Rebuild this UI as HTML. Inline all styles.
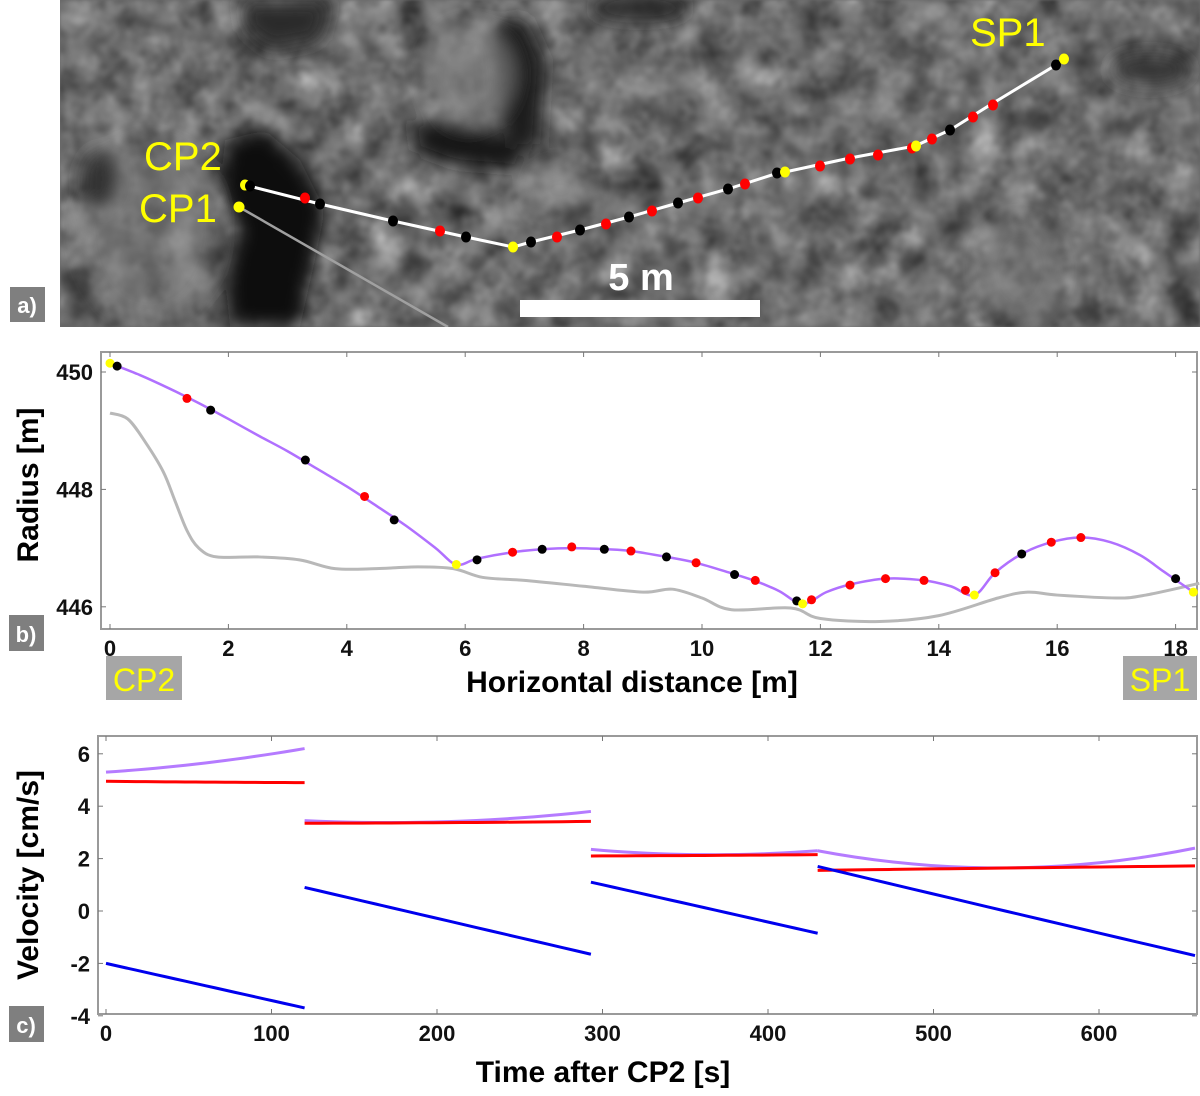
<!DOCTYPE html>
<html><head><meta charset="utf-8">
<style>
body{margin:0;background:#fff;}
svg{display:block;font-family:"Liberation Sans",Arial,sans-serif;}
.tk{font-size:22px;font-weight:bold;fill:#111;}
.ttl{font-size:30px;font-weight:bold;fill:#000;}
</style></head>
<body>
<svg id="fig" width="1200" height="1096" viewBox="0 0 1200 1096">
<defs>
<filter id="blur8"><feGaussianBlur stdDeviation="9"/></filter>
<filter id="noise" x="0" y="0" width="100%" height="100%" color-interpolation-filters="sRGB"><feTurbulence type="fractalNoise" baseFrequency="0.03" numOctaves="3" seed="7"/><feColorMatrix type="matrix" values="0.35 0.35 0.35 0 -0.1  0.35 0.35 0.35 0 -0.1  0.35 0.35 0.35 0 -0.1  0 0 0 0 1"/><feGaussianBlur stdDeviation="1.2"/></filter>
<clipPath id="photoClip"><rect x="60" y="0" width="1140" height="327"/></clipPath>
</defs>

<g clip-path="url(#photoClip)">
  <rect x="60" y="0" width="1140" height="327" fill="#6a6a6a"/>
  <rect x="60" y="0" width="1140" height="327" filter="url(#noise)"/>
  <g filter="url(#blur8)">
    <path d="M225,140 L265,130 L300,160 L325,210 L315,260 L300,327 L230,327 L225,280 L240,230 L220,190Z" fill="#0a0a0a"/>
    <path d="M240,0 L330,0 L320,40 L270,50 L245,30Z" fill="#2a2a2a"/>
    <path d="M410,120 L470,125 L525,145 L520,170 L455,165 L415,150Z" fill="#151515"/>
    <path d="M490,25 L525,15 L545,60 L540,150 L505,150 L495,90Z" fill="#1e1e1e"/>
    <ellipse cx="470" cy="75" rx="45" ry="50" fill="#8a8a8a" opacity="0.6"/>
    <ellipse cx="150" cy="230" rx="70" ry="90" fill="#7e7e7e" opacity="0.5"/>
    <ellipse cx="100" cy="180" rx="18" ry="30" fill="#333"/>
    <ellipse cx="560" cy="190" rx="30" ry="25" fill="#999" opacity="0.5"/>
    <ellipse cx="1150" cy="70" rx="40" ry="15" fill="#333"/>
    <ellipse cx="640" cy="8" rx="50" ry="12" fill="#222"/>
    <ellipse cx="1020" cy="270" rx="40" ry="50" fill="#808080" opacity="0.5"/>
  </g>
  <line x1="239" y1="207" x2="448" y2="327" stroke="#a0a0a0" stroke-width="2.5"/>
  <circle cx="239" cy="207" r="5.5" fill="#ffff00"/>
  <polyline points="245,185 320,204 393,221 466,237 513,247 531,242 580,230 629,217 678,203 728,189 775,174 785,172 850,158 915,146 950,130 990,105 1056,65 1063,60" fill="none" stroke="#fff" stroke-width="3"/>
  <g id="photoDots"></g>
  <rect x="520" y="300" width="240" height="17" fill="#fff"/>
  <text x="641" y="290" text-anchor="middle" font-size="38" font-weight="bold" fill="#fff">5 m</text>
  <text x="144" y="170" font-size="40" fill="#ffff00">CP2</text>
  <text x="139" y="222" font-size="40" fill="#ffff00">CP1</text>
  <text x="970" y="46" font-size="40" fill="#ffff00">SP1</text>
</g>
<g><rect x="10" y="287" width="35" height="35" fill="#7f7f7f"/><text x="27" y="313" text-anchor="middle" font-size="22" font-weight="bold" fill="#fff">a)</text></g>

<g id="panelB"></g>
<g><rect x="9" y="615" width="35" height="36" fill="#7f7f7f"/><text x="26" y="642" text-anchor="middle" font-size="22" font-weight="bold" fill="#fff">b)</text></g>
<g><rect x="106" y="656" width="76" height="44" fill="#a6a6a6"/><text x="144" y="691" text-anchor="middle" font-size="32" fill="#ffff00">CP2</text></g>
<g><rect x="1123" y="656" width="74" height="44" fill="#a6a6a6"/><text x="1160" y="691" text-anchor="middle" font-size="32" fill="#ffff00">SP1</text></g>
<text x="632" y="692" text-anchor="middle" class="ttl">Horizontal distance [m]</text>
<text transform="translate(38,485) rotate(-90)" text-anchor="middle" class="ttl">Radius [m]</text>

<g id="panelC"></g>
<g><rect x="9" y="1006" width="35" height="36" fill="#7f7f7f"/><text x="26" y="1033" text-anchor="middle" font-size="22" font-weight="bold" fill="#fff">c)</text></g>
<text x="603" y="1082" text-anchor="middle" class="ttl">Time after CP2 [s]</text>
<text transform="translate(38,875) rotate(-90)" text-anchor="middle" class="ttl">Velocity [cm/s]</text>
</svg>

<script>
const NS="http://www.w3.org/2000/svg";
const photoDotX=[245,250,305,320,393,440,466,513,531,557,580,606,629,652,678,698,728,745,777,785,820,850,878,912,916,932,950,973,993,1056,1064];
const photoDotY=[185,186,198,204,221,231,237,247,242,237,230,224,217,211,203,198,189,184,173,172,166,159,155,148,146,139,130,117,105,65,59];
const photoDotC=["y","k","r","k","k","r","k","y","k","r","k","r","k","r","k","r","k","r","k","y","r","r","r","r","y","r","k","r","r","k","y"];

const bXTicks=[0,2,4,6,8,10,12,14,16,18];
const bYTicks=[446,448,450];
const trajD=[0,0.5,1,1.5,2,2.5,3,3.5,4,4.5,5,5.5,5.85,6.2,6.8,7.3,7.8,8.4,8.8,9.4,9.9,10.5,10.9,11.3,11.7,12.1,12.5,13.1,13.75,14.2,14.6,14.95,15.4,15.9,16.4,16.9,17.4,17.8,18.3];
const trajR=[450.15,449.95,449.72,449.47,449.2,448.92,448.65,448.35,448.05,447.72,447.38,447.0,446.72,446.82,446.93,446.98,447.0,446.98,446.95,446.85,446.75,446.57,446.44,446.27,446.05,446.25,446.38,446.48,446.45,446.35,446.2,446.58,446.9,447.1,447.18,447.1,446.88,446.6,446.25];
const terrD=[0,0.3,0.6,0.9,1.1,1.3,1.5,1.8,2.5,3.2,3.8,4.5,5.2,5.8,6.3,7,8,9,9.5,10,10.5,11.5,12,13,14,15,15.5,16,17,17.5,18.4];
const terrR=[449.3,449.2,448.8,448.3,447.8,447.3,447.0,446.85,446.85,446.8,446.65,446.65,446.68,446.65,446.5,446.45,446.35,446.25,446.3,446.15,445.95,445.98,445.8,445.75,445.85,446.15,446.25,446.2,446.15,446.2,446.4];
const dotD=[0,0.12,1.3,1.7,3.3,4.3,4.8,5.85,6.2,6.8,7.3,7.8,8.35,8.8,9.4,9.9,10.55,10.9,11.6,11.7,11.85,12.5,13.1,13.75,14.45,14.6,14.95,15.4,15.9,16.4,18.0,18.3];
const dotR=[450.15,450.1,449.55,449.35,448.5,447.88,447.48,446.72,446.8,446.93,446.98,447.02,446.98,446.95,446.85,446.75,446.55,446.45,446.1,446.05,446.12,446.37,446.48,446.45,446.28,446.2,446.58,446.9,447.1,447.18,446.48,446.25];
const dotC=["y","k","r","k","k","r","k","y","k","r","k","r","k","r","k","r","k","r","k","y","r","r","r","r","r","y","r","k","r","r","k","y"];

const cXTicks=[0,100,200,300,400,500,600];
const cYTicks=[-4,-2,0,2,4,6];
const segT=[[0,60,120],[120,200,293],[293,360,430],[430,530,658]];
const segTotal=[[5.3,5.65,6.2],[3.45,3.4,3.8],[2.35,2.15,2.3],[2.3,1.65,2.4]];
const segHoriz=[[4.95,4.92,4.9],[3.35,3.37,3.42],[2.1,2.12,2.15],[1.55,1.63,1.72]];
const segVert=[[-2.0,-2.85,-3.7],[0.9,-0.28,-1.65],[1.1,0.15,-0.85],[1.7,0.2,-1.7]];

const colMap={y:"#ffff00",k:"#000",r:"#ff0000"};
function mk(tag,attrs,parent){const e=document.createElementNS(NS,tag);for(const k in attrs)e.setAttribute(k,attrs[k]);parent.appendChild(e);return e;}
function smooth(P){let d="M"+P[0][0]+","+P[0][1];
  for(let i=0;i<P.length-1;i++){const p0=P[Math.max(0,i-1)],p1=P[i],p2=P[i+1],p3=P[Math.min(P.length-1,i+2)];
    d+=" C"+(p1[0]+(p2[0]-p0[0])/6)+","+(p1[1]+(p2[1]-p0[1])/6)+" "+(p2[0]-(p3[0]-p1[0])/6)+","+(p2[1]-(p3[1]-p1[1])/6)+" "+p2[0]+","+p2[1];}
  return d;}

const pd=document.getElementById("photoDots");
photoDotX.forEach((x,i)=>{const c=mk("ellipse",{cx:x,cy:photoDotY[i],rx:5,ry:5.5,fill:colMap[photoDotC[i]]},pd);

});

function frame(g,L,T,R,B,xt,yt,sx,sy){
  mk("rect",{x:L,y:T,width:R-L,height:B-T,fill:"#fff",stroke:"#9a9a9a","stroke-width":2},g);
  xt.forEach(v=>{const x=sx(v);mk("line",{x1:x,y1:T,x2:x,y2:T+5,stroke:"#777"},g);mk("line",{x1:x,y1:B,x2:x,y2:B-5,stroke:"#777"},g);
    const t=mk("text",{x:x,y:B+27,"text-anchor":"middle",class:"tk"},g);t.textContent=v;
    
    });
  yt.forEach(v=>{const y=sy(v);mk("line",{x1:L,y1:y,x2:L+5,y2:y,stroke:"#777"},g);mk("line",{x1:R,y1:y,x2:R-5,y2:y,stroke:"#777"},g);
    const t=mk("text",{x:L-8,y:y+8,"text-anchor":"end",class:"tk"},g);t.textContent=v;
    
    });
}

const gb=document.getElementById("panelB");
const bx=d=>110+d*59.2, by=r=>372-(r-450)*58.7;
frame(gb,101,352,1197,629,bXTicks,bYTicks,bx,by);
const terr=mk("path",{d:smooth(terrD.map((d,i)=>[bx(d),by(terrR[i])])),fill:"none",stroke:"#b8b8b8","stroke-width":3},gb);


const tr=mk("path",{d:smooth(trajD.map((d,i)=>[bx(d),by(trajR[i])])),fill:"none",stroke:"#b070ff","stroke-width":2.5},gb);


dotD.forEach((d,i)=>{const c=mk("circle",{cx:bx(d),cy:by(dotR[i]),r:4.5,fill:colMap[dotC[i]]},gb);

});

const gc=document.getElementById("panelC");
const cx=t=>106+t*1.655, cy=v=>911-v*26.2;
frame(gc,98,736,1197,1014,cXTicks,cYTicks,cx,cy);
function seg(arr,color,name){
  segT.forEach((ts,i)=>{
    const vs=arr[i];
    const pts=[];
    for(let k=0;k<=20;k++){const t=ts[0]+(ts[2]-ts[0])*k/20;
      const l0=((t-ts[1])*(t-ts[2]))/((ts[0]-ts[1])*(ts[0]-ts[2]));
      const l1=((t-ts[0])*(t-ts[2]))/((ts[1]-ts[0])*(ts[1]-ts[2]));
      const l2=((t-ts[0])*(t-ts[1]))/((ts[2]-ts[0])*(ts[2]-ts[1]));
      pts.push(cx(t)+","+cy(vs[0]*l0+vs[1]*l1+vs[2]*l2));}
    const p=mk("polyline",{points:pts.join(" "),fill:"none",stroke:color,"stroke-width":3},gc);
    
    
  });
}
seg(segTotal,"#b57bff","total-speed-line");
seg(segHoriz,"#ff0000","horizontal-velocity-line");
seg(segVert,"#0000ee","vertical-velocity-line");
</script>
</body></html>
